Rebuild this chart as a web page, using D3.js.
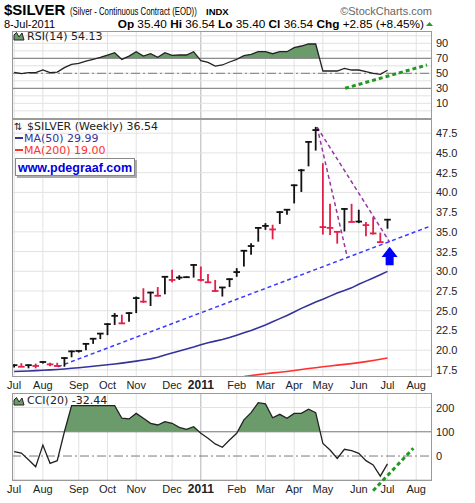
<!DOCTYPE html>
<html><head><meta charset="utf-8">
<script src="https://cdn.jsdelivr.net/npm/d3@7"></script>
<style>body{margin:0;background:#fff}svg{display:block}</style>
</head><body><svg id="c" width="475" height="503"></svg>
<script>
// ---------- data ----------
const monthTicks  = [0,4,9,13,17,22,26,31,35,39,43,48,52,56];
const monthLabels = ["Jul","Aug","Sep","Oct","Nov","Dec","2011","Feb","Mar","Apr","May","Jun","Jul","Aug"];
const priceTicks = [17.5,20,22.5,25,27.5,30,32.5,35,37.5,40,42.5,45,47.5];
const rsiTicks = [90,70,50,30,10];
const cciTicks = [200,100,0];

const high  = [18.2,18.35,18.2,18.3,18.55,18.4,18.4,19.1,19.95,20.0,20.9,21.5,22.15,23.4,24.7,24.5,24.8,26.8,27.85,27.4,28.0,29.4,30.2,29.5,29.35,30.9,30.6,29.65,28.9,28.0,29.1,30.4,32.7,33.55,35.6,36.1,35.9,37.6,37.9,41.0,42.97,46.5,48.3,43.7,38.55,35.1,38.0,38.55,37.8,36.25,36.85,34.9,36.54];
const low   = [17.8,17.9,17.7,17.7,18.3,17.95,17.9,17.9,19.1,19.7,20.0,20.8,21.4,21.9,23.2,23.3,23.6,24.7,26.0,25.6,26.8,27.1,28.6,28.9,29.15,29.2,28.7,28.5,27.4,26.8,28.0,29.3,30.6,32.1,33.75,35.25,34.05,36.0,37.15,38.6,40.05,43.3,45.3,34.65,34.6,33.5,35.05,36.2,36.1,34.45,34.65,33.6,35.40];
const close = [18.1,17.9,18.1,18.0,18.5,18.2,18.0,19.0,19.85,19.9,20.8,21.45,22.1,23.3,24.35,23.4,24.7,26.6,26.15,27.3,26.9,29.3,28.9,29.2,29.25,30.8,28.9,28.6,27.5,27.95,29.0,29.9,32.6,33.2,35.5,35.75,35.3,37.5,37.8,40.9,42.8,46.4,47.9,35.6,35.5,35.0,37.9,36.25,36.3,35.85,34.8,33.69,36.54];
const ma50  = [17.30,17.33,17.37,17.41,17.45,17.50,17.55,17.62,17.70,17.78,17.87,17.96,18.05,18.15,18.25,18.36,18.48,18.61,18.75,18.90,19.10,19.40,19.65,19.90,20.15,20.40,20.70,20.95,21.15,21.35,21.60,21.90,22.20,22.50,22.85,23.20,23.60,24.00,24.40,24.85,25.30,25.70,26.10,26.45,26.85,27.25,27.55,27.90,28.35,28.75,29.15,29.55,29.99];
const ma200 = [null,null,null,null,null,null,null,null,null,null,null,null,null,null,null,null,null,null,null,null,null,null,null,null,null,null,null,null,null,null,16.45,16.55,16.65,16.78,16.90,17.02,17.12,17.20,17.30,17.42,17.55,17.67,17.78,17.90,18.00,18.10,18.20,18.30,18.42,18.55,18.70,18.85,19.00];
const rsi   = [51.3,49.5,50.8,51.0,54.4,50.8,51.6,57.5,62.0,63.3,66.4,68.6,71.3,74.4,77.5,68.6,73.0,78.8,73.0,76.1,71.3,77.5,74.0,74.4,74.4,78.8,66.8,64.6,59.7,61.1,65.1,68.6,73.5,75.3,78.8,78.8,76.1,78.8,78.8,84.2,86.4,89.1,89.1,53.1,53.1,53.1,56.6,54.4,54.4,52.2,50.0,48.7,54.13];
const cci   = [18,12,-15,-44,45,-30,-19,100,208,208,208,208,208,208,208,156,153,176,156,135,128,142,135,118,110,121,94,73,50,36,66,94,149,179,220,215,158,172,156,176,176,193,179,52,25,-10,28,22,11,-19,-37,-83,-32.44];

// annotations (week index, value)
const blueTrend   = [[6.1,17.9],[58.2,35.8]];
const purpleLines = [[[42.2,48.26],[46.4,31.8]],[[42.2,48.26],[52.3,33.7]]];
const arrowPos    = {week:52.3, tip:33.1, base:30.75};
const rsiTrend    = [[46.1,30],[57.5,61.1]];
const cciTrend    = [[50.0,-143],[55.6,32]];

// ---------- layout ----------
const svg = d3.select("#c");
const X0 = 12, X1 = 432;
const x = d3.scaleLinear().domain([-0.3,58.2]).range([X0,X1]);
const P = {rsi:{t:31,b:119}, price:{t:119,b:377}, cci:{t:393,b:481}};
const yR = d3.scaleLinear().domain([-10.9,106.4]).range([P.rsi.b,P.rsi.t]);
const yP = d3.scaleLinear().domain([16.6,49.3]).range([P.price.b,P.price.t]);
const yC = d3.scaleLinear().domain([-103,260]).range([P.cci.b,P.cci.t]);
const FONT = "'Liberation Sans', Arial, sans-serif";
const VFONT = "'DejaVu Sans', Verdana, sans-serif";
const weeks = d3.range(close.length);
const defs = svg.append("defs");

function clip(id, p){
  defs.append("clipPath").attr("id",id).append("rect")
    .attr("x",X0).attr("y",p.t).attr("width",X1-X0).attr("height",p.b-p.t);
}
clip("cR",P.rsi); clip("cP",P.price); clip("cC",P.cci);

function vgrid(p){
  const g = svg.append("g");
  g.selectAll("line").data(monthTicks.map((w,i)=>({w,i})).filter(d=>x(d.w)>X0+1 && x(d.w)<X1-1))
   .join("line").attr("x1",d=>x(d.w)).attr("x2",d=>x(d.w)).attr("y1",p.t).attr("y2",p.b)
   .attr("stroke",d=>monthLabels[d.i]==="2011"?"#b4b4b4":"#e2e2e2").attr("stroke-width",1);
}
function hgrid(p, scale, vals, color){
  svg.append("g").selectAll("line").data(vals).join("line")
    .attr("x1",X0).attr("x2",X1).attr("y1",d=>scale(d)).attr("y2",d=>scale(d))
    .attr("stroke",color||"#e2e2e2").attr("stroke-width",1);
}
function border(p){
  svg.append("rect").attr("x",X0+0.5).attr("y",p.t+0.5).attr("width",X1-X0-1).attr("height",p.b-p.t-1)
    .attr("fill","none").attr("stroke","#9a9a9a");
}
function rightLabels(scale, vals, fmt, p){
  svg.append("g").selectAll("text").data(vals).join("text")
    .attr("x",436).attr("y",d=>scale(d)+4).text(fmt)
    .attr("font-family",FONT).attr("font-size",11).attr("fill","#222");
}
function monthAxis(yBase){
  svg.append("g").selectAll("text").data(monthTicks.map((w,i)=>({w,i}))).join("text")
    .attr("x",d=>x(d.w)).attr("y",yBase).attr("text-anchor","middle")
    .attr("font-family",FONT).attr("fill","#222")
    .attr("font-weight",d=>monthLabels[d.i]==="2011"?"bold":"normal")
    .attr("font-size",d=>monthLabels[d.i]==="2011"?12:11)
    .text(d=>monthLabels[d.i]);
}

// ---------- header ----------
svg.append("text").attr("x",4).attr("y",15).text("$SILVER")
  .attr("font-family",FONT).attr("font-weight","bold").attr("font-size",15).attr("fill","#000");
svg.append("text").attr("transform","translate(70,15) scale(0.78,1)").text("(Silver - Continuous Contract (EOD))")
  .attr("font-family",FONT).attr("font-size",10).attr("fill","#000");
svg.append("text").attr("x",206).attr("y",15).text("INDX")
  .attr("font-family",FONT).attr("font-size",9.5).attr("font-weight","bold").attr("fill","#000");
svg.append("text").attr("x",432).attr("y",15).attr("text-anchor","end").text("\u00A9StockCharts.com")
  .attr("font-family",FONT).attr("font-size",11).attr("fill","#666");
svg.append("text").attr("x",4).attr("y",28).text("8-Jul-2011")
  .attr("font-family",FONT).attr("font-size",11).attr("fill","#000");
const stats = svg.append("text").attr("x",424).attr("y",28).attr("text-anchor","end")
  .attr("font-family",FONT).attr("font-size",11.8).attr("fill","#000");
[["Op",1],[" 35.40 ",0],["Hi",1],[" 36.54 ",0],["Lo",1],[" 35.40 ",0],["Cl",1],[" 36.54 ",0],["Chg",1],[" +2.85 (+8.45%)",0]]
  .forEach(([t,b])=>stats.append("tspan").attr("font-weight",b?"bold":"normal").text(t));
svg.append("path").attr("d","M426,26 L429.5,22 L433,26 Z").attr("fill","#2a9a2a");

// ---------- RSI panel ----------
vgrid(P.rsi);
hgrid(P.rsi, yR, d3.range(0,101,10));
const gR = svg.append("g").attr("clip-path","url(#cR)");
defs.append("clipPath").attr("id","cR70").append("rect").attr("x",X0).attr("y",P.rsi.t).attr("width",X1-X0).attr("height",yR(70)-P.rsi.t);
gR.append("path").datum(rsi).attr("clip-path","url(#cR70)")
  .attr("d",d3.area().x((d,i)=>x(i)).y0(yR(70)).y1(d=>yR(d))).attr("fill","#6b9b6b");
gR.append("line").attr("x1",X0).attr("x2",X1).attr("y1",yR(70)).attr("y2",yR(70)).attr("stroke","#7a7a7a");
gR.append("line").attr("x1",X0).attr("x2",X1).attr("y1",yR(30)).attr("y2",yR(30)).attr("stroke","#7a7a7a");
gR.append("line").attr("x1",X0).attr("x2",X1).attr("y1",yR(50)).attr("y2",yR(50)).attr("stroke","#7a7a7a").attr("stroke-dasharray","9,3,2,3");
gR.append("path").datum(rsi).attr("d",d3.line().x((d,i)=>x(i)).y(d=>yR(d))).attr("fill","none").attr("stroke","#222").attr("stroke-width",1.3);
border(P.rsi);
rightLabels(yR, rsiTicks, d=>d, P.rsi);
svg.append("path").attr("d","M14,40 L14,35 L16.5,32.5 L19,37 L22,33 L24,40 Z").attr("fill","#6b9b6b").attr("stroke","#222").attr("stroke-width",1);
svg.append("text").attr("x",27).attr("y",40).text("RSI(14) 54.13").attr("font-family",VFONT).attr("font-size",11).attr("fill","#222");

// ---------- price panel ----------
vgrid(P.price);
hgrid(P.price, yP, priceTicks);
const gP = svg.append("g").attr("clip-path","url(#cP)");
gP.append("path").datum(ma200).attr("d",d3.line().defined(d=>d!==null).x((d,i)=>x(i)).y(d=>yP(d)))
  .attr("fill","none").attr("stroke","#ff3030").attr("stroke-width",1.6);
gP.append("path").datum(ma50).attr("d",d3.line().x((d,i)=>x(i)).y(d=>yP(d)))
  .attr("fill","none").attr("stroke","#333399").attr("stroke-width",1.6);
gP.append("line").datum(blueTrend).attr("x1",d=>x(d[0][0])).attr("y1",d=>yP(d[0][1])).attr("x2",d=>x(d[1][0])).attr("y2",d=>yP(d[1][1]))
  .attr("stroke","#3a3aff").attr("stroke-width",1.5).attr("stroke-dasharray","4,3");
gP.selectAll(".pl").data(purpleLines).join("line").attr("class","pl")
  .attr("x1",d=>x(d[0][0])).attr("y1",d=>yP(d[0][1])).attr("x2",d=>x(d[1][0])).attr("y2",d=>yP(d[1][1]))
  .attr("stroke","#9933aa").attr("stroke-width",1.5).attr("stroke-dasharray","4,3");
const barCol = i => (i===0 || close[i]>=close[i-1]) ? "#111" : "#e0204a";
const bars = gP.append("g").selectAll("g").data(weeks).join("g");
bars.append("line").attr("x1",i=>x(i)).attr("x2",i=>x(i)).attr("y1",i=>yP(low[i])).attr("y2",i=>yP(high[i]))
  .attr("stroke",barCol).attr("stroke-width",1.8);
bars.append("line").attr("x1",i=>x(i)-3.3).attr("x2",i=>x(i)+3.3).attr("y1",i=>yP(close[i])).attr("y2",i=>yP(close[i]))
  .attr("stroke",barCol).attr("stroke-width",1.8);
// blue arrow
{
  const ax = x(arrowPos.week), ty = yP(arrowPos.tip), by = yP(arrowPos.base);
  const hh = (by-ty)*0.55;
  gP.append("path").attr("d",`M${ax},${ty} L${ax+8},${ty+hh} L${ax+4},${ty+hh} L${ax+4},${by} L${ax-4},${by} L${ax-4},${ty+hh} L${ax-8},${ty+hh} Z`)
    .attr("fill","#0000ff");
}
border(P.price);
rightLabels(yP, priceTicks, d=>d.toFixed(1), P.price);
// legend
svg.append("text").attr("x",14).attr("y",130).text("\u21C5").attr("font-family",VFONT).attr("font-size",10).attr("fill","#222");
svg.append("text").attr("x",27).attr("y",130).text("$SILVER (Weekly) 36.54").attr("font-family",VFONT).attr("font-size",11).attr("fill","#222");
svg.append("line").attr("x1",15).attr("x2",23).attr("y1",138).attr("y2",138).attr("stroke","#333399").attr("stroke-width",2);
svg.append("text").attr("x",24).attr("y",142).text("MA(50) 29.99").attr("font-family",VFONT).attr("font-size",11).attr("fill","#333399");
svg.append("line").attr("x1",15).attr("x2",23).attr("y1",150).attr("y2",150).attr("stroke","#ff3030").attr("stroke-width",2);
svg.append("text").attr("x",24).attr("y",154).text("MA(200) 19.00").attr("font-family",VFONT).attr("font-size",11).attr("fill","#ff3030");
svg.append("rect").attr("x",17).attr("y",160).attr("width",120).attr("height",18).attr("fill","#aaa");
svg.append("rect").attr("x",15.5).attr("y",158.5).attr("width",119).attr("height",17).attr("fill","#fff").attr("stroke","#888");
svg.append("text").attr("x",75).attr("y",171.5).attr("text-anchor","middle").text("www.pdegraaf.com")
  .attr("font-family",FONT).attr("font-weight","bold").attr("font-size",12.5).attr("fill","#0000dd");
monthAxis(389);

// ---------- CCI panel ----------
vgrid(P.cci);
hgrid(P.cci, yC, [200]);
const gC = svg.append("g").attr("clip-path","url(#cC)");
defs.append("clipPath").attr("id","cC100").append("rect").attr("x",X0).attr("y",P.cci.t).attr("width",X1-X0).attr("height",yC(100)-P.cci.t);
gC.append("path").datum(cci).attr("clip-path","url(#cC100)")
  .attr("d",d3.area().x((d,i)=>x(i)).y0(yC(100)).y1(d=>yC(d))).attr("fill","#6b9b6b");
gC.append("line").attr("x1",X0).attr("x2",X1).attr("y1",yC(100)).attr("y2",yC(100)).attr("stroke","#7a7a7a");
gC.append("line").attr("x1",X0).attr("x2",X1).attr("y1",yC(-100)).attr("y2",yC(-100)).attr("stroke","#7a7a7a");
gC.append("line").attr("x1",X0).attr("x2",X1).attr("y1",yC(0)).attr("y2",yC(0)).attr("stroke","#7a7a7a").attr("stroke-dasharray","9,3,2,3");
gC.append("path").datum(cci).attr("d",d3.line().x((d,i)=>x(i)).y(d=>yC(d))).attr("fill","none").attr("stroke","#222").attr("stroke-width",1.3);
border(P.cci);
rightLabels(yC, cciTicks, d=>d, P.cci);
svg.append("path").attr("d","M14,405 L14,400 L16.5,397.5 L19,402 L22,398 L24,405 Z").attr("fill","#6b9b6b").attr("stroke","#222").attr("stroke-width",1);
svg.append("text").attr("x",27).attr("y",404).text("CCI(20) -32.44").attr("font-family",VFONT).attr("font-size",11).attr("fill","#222");
monthAxis(493);

// ---------- green dotted trend lines (drawn on top, unclipped) ----------
svg.append("line").datum(rsiTrend).attr("x1",d=>x(d[0][0])).attr("y1",d=>yR(d[0][1])).attr("x2",d=>x(d[1][0])).attr("y2",d=>yR(d[1][1]))
  .attr("stroke","#1f9a1f").attr("stroke-width",3).attr("stroke-dasharray","4,3");
svg.append("line").datum(cciTrend).attr("x1",d=>x(d[0][0])).attr("y1",d=>yC(d[0][1])).attr("x2",d=>x(d[1][0])).attr("y2",d=>yC(d[1][1]))
  .attr("stroke","#1f9a1f").attr("stroke-width",3).attr("stroke-dasharray","4,3");
</script>
</body></html>
